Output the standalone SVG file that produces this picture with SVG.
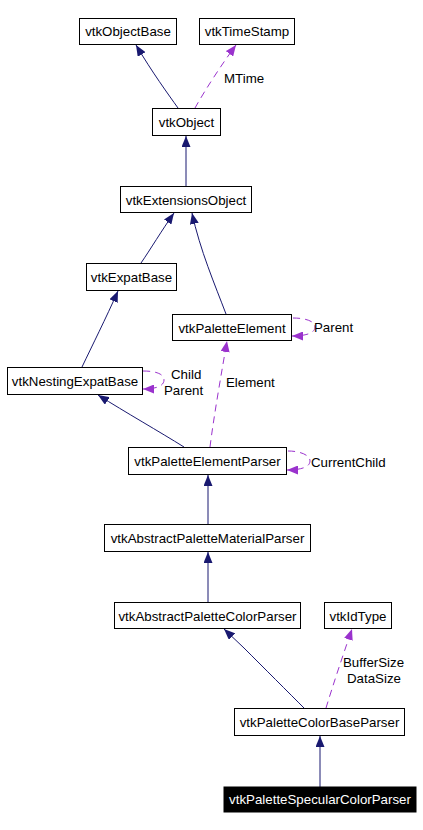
<svg xmlns="http://www.w3.org/2000/svg" width="423" height="830" viewBox="0 0 423 830">
<style>
.n rect{fill:#fff;stroke:#000;stroke-width:1}
.n text,.lbl{font-family:"Liberation Sans",Arial,sans-serif;font-size:13.3px;fill:#000}
.n text{text-anchor:middle}
.inh{fill:none;stroke:#191970;stroke-width:1;marker-end:url(#ah)}
.use{fill:none;stroke:#9a32cd;stroke-width:1;stroke-dasharray:7,5;marker-end:url(#ap)}
</style>
<defs>
<marker id="ah" viewBox="0 0 11 9" refX="11" refY="4.5" markerWidth="11" markerHeight="9" markerUnits="userSpaceOnUse" orient="auto">
<path d="M0,0 L11,4.5 L0,9 z" fill="#191970"/>
</marker>
<marker id="ap" viewBox="0 0 11 9" refX="11" refY="4.5" markerWidth="11" markerHeight="9" markerUnits="userSpaceOnUse" orient="auto">
<path d="M0,0 L11,4.5 L0,9 z" fill="#9a32cd"/>
</marker>
</defs>
<rect width="423" height="830" fill="#fff"/>
<g id="edges">
<path class="inh" d="M178,108 C168,94 152,72 136,45"/>
<path class="use" d="M195,108 C205,90 222,64 236,45"/>
<path class="inh" d="M186,186 L186,136"/>
<path class="inh" d="M141,263 C150,250 162,230 174,213"/>
<path class="inh" d="M226,314 C215,285 200,250 192,213"/>
<path class="inh" d="M82,367 C92,346 106,318 118,291"/>
<path class="use" d="M293,318 C305,318 315,321 315,327 C315,333 306,336 292,336"/>
<path class="use" d="M143,371 C156,371 164,374 164,380 C164,386 156,389 143,389"/>
<path class="use" d="M210,447 C214,415 222,370 227,341"/>
<path class="inh" d="M184,447 C160,432 125,412 98,395"/>
<path class="use" d="M288,451 C300,451 310,455 310,461 C310,467 301,470 287,470"/>
<path class="inh" d="M208,524 L208,475"/>
<path class="inh" d="M208,602 L208,552"/>
<path class="inh" d="M304,708 C290,694 262,666 244,648 L224,629"/>
<path class="use" d="M326,708 C333,685 343,655 352,629"/>
<path class="inh" d="M320,787 L320,736"/>
<text class="lbl" x="224" y="82.5">MTime</text>
<text class="lbl" x="314" y="332">Parent</text>
<text class="lbl" x="171" y="379">Child</text>
<text class="lbl" x="164" y="394.5">Parent</text>
<text class="lbl" x="226" y="386.5">Element</text>
<text class="lbl" x="311" y="466.5">CurrentChild</text>
<text class="lbl" x="343" y="666.5">BufferSize</text>
<text class="lbl" x="347" y="682.5">DataSize</text>
</g>
<g id="vtkObjectBase" class="n"><rect x="79.5" y="18.5" width="97" height="26"/><text x="128" y="36">vtkObjectBase</text></g>
<g id="vtkTimeStamp" class="n"><rect x="199.5" y="18.5" width="95" height="26"/><text x="247" y="36">vtkTimeStamp</text></g>
<g id="vtkObject" class="n"><rect x="152.5" y="108.5" width="68" height="27"/><text x="186.5" y="127">vtkObject</text></g>
<g id="vtkExtensionsObject" class="n"><rect x="120.5" y="186.5" width="131" height="26"/><text x="186" y="204.5">vtkExtensionsObject</text></g>
<g id="vtkExpatBase" class="n"><rect x="86.5" y="263.5" width="90" height="27"/><text x="131.5" y="282">vtkExpatBase</text></g>
<g id="vtkPaletteElement" class="n"><rect x="172.5" y="314.5" width="119" height="26"/><text x="232" y="332.5">vtkPaletteElement</text></g>
<g id="vtkNestingExpatBase" class="n"><rect x="7.5" y="367.5" width="135" height="27"/><text x="75" y="386">vtkNestingExpatBase</text></g>
<g id="vtkPaletteElementParser" class="n"><rect x="128.5" y="447.5" width="158" height="27"/><text x="207.5" y="466">vtkPaletteElementParser</text></g>
<g id="vtkAbstractPaletteMaterialParser" class="n"><rect x="104.5" y="524.5" width="206" height="27"/><text x="207.5" y="543">vtkAbstractPaletteMaterialParser</text></g>
<g id="vtkAbstractPaletteColorParser" class="n"><rect x="114.5" y="602.5" width="186" height="26"/><text x="207.5" y="620.5">vtkAbstractPaletteColorParser</text></g>
<g id="vtkIdType" class="n"><rect x="324.5" y="602.5" width="67" height="26"/><text x="358" y="620.5">vtkIdType</text></g>
<g id="vtkPaletteColorBaseParser" class="n"><rect x="234.5" y="708.5" width="170" height="27"/><text x="319.5" y="727">vtkPaletteColorBaseParser</text></g>
<g id="vtkPaletteSpecularColorParser" class="n"><rect x="224" y="787" width="192" height="25" style="fill:#000;stroke:#000"/><text x="320" y="804" style="fill:#fff">vtkPaletteSpecularColorParser</text></g>
</svg>
